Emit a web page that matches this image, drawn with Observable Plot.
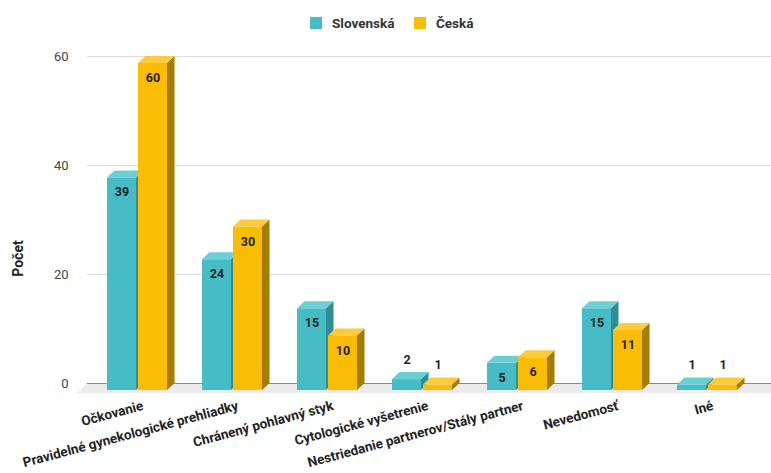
<!DOCTYPE html>
<html>
<head>
<meta charset="utf-8">
<script src="https://cdn.jsdelivr.net/npm/d3@7"></script>
<script src="https://cdn.jsdelivr.net/npm/@observablehq/plot@0.6"></script>
<style>
  body { margin: 0; background: #fff; font-family: Roboto, "Liberation Sans", sans-serif; }
  #legend { position: relative; height: 40px; width: 771px; }
  .sw { position: absolute; top: 17px; width: 12px; height: 12px; }
  .lt { position: absolute; top: 14px; font-size: 13.5px; font-weight: bold; color: #333; line-height: 18px; }
  #chart svg { display: block; }
</style>
</head>
<body>
<div id="legend"></div>
<div id="chart"></div>
<script>
// ---- data ----
const categories = [
  "Očkovanie",
  "Pravidelné gynekologické prehliadky",
  "Chránený pohlavný styk",
  "Cytologické vyšetrenie",
  "Nestriedanie partnerov/Stály partner",
  "Nevedomosť",
  "Iné"
];
const seriesNames = ["Slovenská", "Česká"];
const slovenska = [39, 24, 15, 2, 5, 15, 1];
const ceska = [60, 30, 10, 1, 6, 11, 1];
const yTicks = [0, 20, 40, 60];
const yLabel = "Počet";

// ---- styles ----
const frontColors = ["#46bdc6", "#fbbc04"];
const sideColors = ["#2f8d94", "#a57c00"];
const topColors = ["#6ccfd6", "#fdcb3c"];
const DX = 7.5, DY = 7, W = 29, HALF_GAP = 1;

const rows = [];
categories.forEach((c, i) => {
  rows.push({cat: c, si: 0, value: slovenska[i]});
  rows.push({cat: c, si: 1, value: ceska[i]});
});

// legend
const legend = document.getElementById("legend");
const legendPos = [[310, 332], [414, 436]];
seriesNames.forEach((s, i) => {
  const sw = document.createElement("div");
  sw.className = "sw"; sw.style.left = legendPos[i][0] + "px"; sw.style.background = frontColors[i];
  const t = document.createElement("div");
  t.className = "lt"; t.style.left = legendPos[i][1] + "px"; t.textContent = s;
  legend.append(sw, t);
});

function bandOf(scales) {
  const sx = scales.x;
  if (sx && typeof sx.bandwidth === "function") return sx.bandwidth();
  if (scales.scales && scales.scales.x) return scales.scales.x.bandwidth;
  return 0;
}

function box3d(index, scales, values, dimensions) {
  const g = d3.create("svg:g");
  const bw = bandOf(scales);
  const y0 = scales.y(0);
  for (const i of index) {
    const d = rows[i];
    const c = scales.x(d.cat) + bw / 2 + 0.5;
    const xf = d.si === 0 ? c - HALF_GAP - W : c + HALF_GAP;
    const yv = scales.y(d.value);
    g.append("rect").attr("x", xf).attr("y", yv + DY).attr("width", W).attr("height", y0 - yv)
      .attr("fill", frontColors[d.si]);
    g.append("polygon").attr("points", [[xf + W, yv + DY], [xf + W + DX, yv], [xf + W + DX, y0], [xf + W, y0 + DY]].join(" "))
      .attr("fill", sideColors[d.si]);
    g.append("polygon").attr("points", [[xf, yv + DY], [xf + DX, yv], [xf + W + DX, yv], [xf + W, yv + DY]].join(" "))
      .attr("fill", topColors[d.si]);
  }
  return g.node();
}

function floor(index, scales, values, dimensions) {
  const y0 = scales.y(0);
  const {marginLeft, width} = dimensions;
  const g = d3.create("svg:g");
  g.append("polygon").attr("points", [[marginLeft, y0], [width, y0], [width, y0 + 10], [marginLeft - 10, y0 + 10]].join(" "))
    .attr("fill", "#ebebeb");
  return g.node();
}

function labelMarks(si, sign) {
  const inside = rows.filter(d => d.si === si && d.value >= 3);
  const outside = rows.filter(d => d.si === si && d.value < 3);
  const common = {x: "cat", y: "value", text: d => String(d.value), dx: sign * 15.5 + 0.5,
    fontSize: 12.5, fontWeight: "bold", fill: "#1f1f1f"};
  return [
    Plot.text(inside, {...common, dy: 21.5}),
    Plot.text(outside, {...common, dy: -13})
  ];
}

const chart = Plot.plot({
  width: 771,
  height: 433,
  marginLeft: 87,
  marginRight: 0,
  marginTop: 16,
  marginBottom: 90,
  style: {fontFamily: "Roboto, 'Liberation Sans', sans-serif", background: "#fff"},
  x: {domain: categories, range: [88, 755], padding: 0},
  y: {domain: [0, 60], range: [343, 16]},
  marks: [
    Plot.ruleY(yTicks.filter(v => v > 0), {stroke: "#dddddd"}),
    Plot.ruleY([0], {render: floor}),
    Plot.ruleY([0], {stroke: "#8a8a8a"}),
    Plot.axisY(yTicks, {tickSize: 0, tickPadding: 19, fontSize: 13, fill: "#444", label: null}),
    Plot.axisX({tickSize: 0, tickPadding: 22, tickRotate: -15, fontSize: 13.5, fontWeight: "bold", fill: "#222", dx: 6, label: null}),
    Plot.barY(rows, {x: "cat", y: "value", render: box3d}),
    ...labelMarks(0, -1),
    ...labelMarks(1, 1),
    Plot.text([yLabel], {frameAnchor: "left", rotate: -90, dx: -69, dy: 38.5, textAnchor: "middle",
      fontSize: 14, fontWeight: "bold", fill: "#222"})
  ]
});
document.getElementById("chart").append(chart);
</script>
</body>
</html>
